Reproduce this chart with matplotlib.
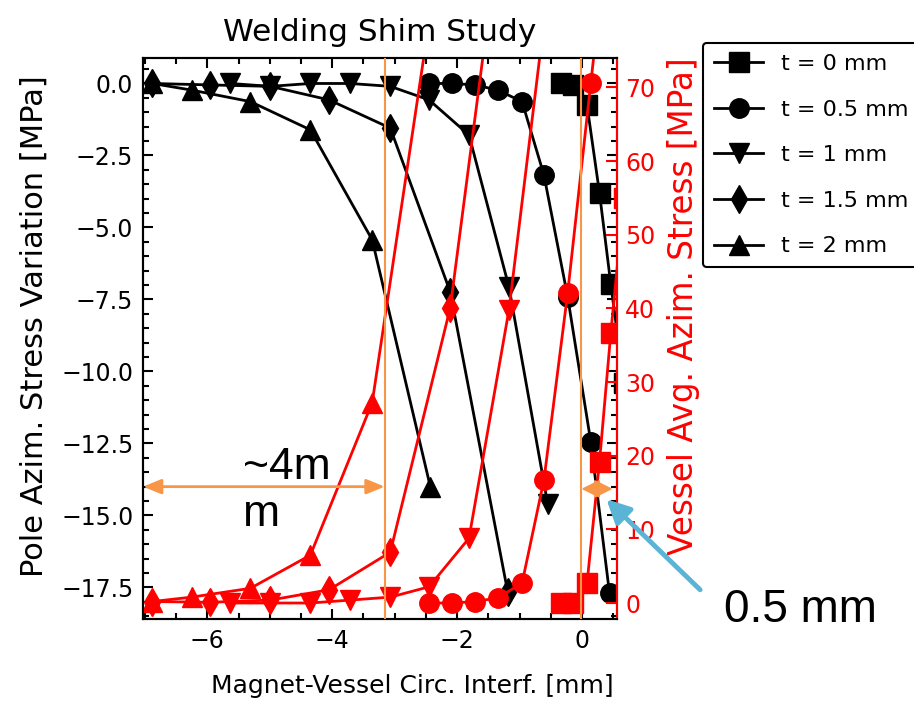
import matplotlib.pyplot as plt
from matplotlib.ticker import MultipleLocator

plt.rcParams['font.family'] = 'DejaVu Sans'
plt.rcParams['xtick.labelsize'] = 17
plt.rcParams['ytick.labelsize'] = 17

# shim thickness series: x = circ. interference [mm]
# pole = pole azim. stress variation [MPa], vessel = vessel avg. azim. stress [MPa]
x_t0 = [-0.34, -0.14, 0.08, 0.28, 0.46, 0.67]
pole_t0 = [0.0, -0.05, -0.75, -3.81, -6.96, -10.4]
vessel_t0 = [0.0, 0.0, 2.7, 19.2, 36.6, 55.0]

x_t05 = [-2.45, -2.08, -1.71, -1.35, -0.96, -0.61, -0.23, 0.14, 0.44]
pole_t05 = [0.0, 0.0, -0.05, -0.23, -0.63, -3.18, -7.41, -12.44, -17.7]
vessel_t05 = [0.0, 0.0, 0.2, 0.7, 2.7, 16.7, 42.1, 70.6, 93.0]

x_t1 = [-5.63, -4.99, -4.35, -3.71, -3.07, -2.45, -1.81, -1.17, -0.55]
pole_t1 = [0.0, -0.1, 0.0, 0.0, -0.1, -0.57, -1.79, -7.07, -14.6]
vessel_t1 = [0.0, 0.0, 0.0, 0.4, 0.8, 2.2, 8.8, 39.8, 83.0]

x_t15 = [-6.88, -5.95, -4.99, -4.05, -3.07, -2.11, -1.19]
pole_t15 = [0.0, -0.05, -0.1, -0.57, -1.55, -7.24, -17.66]
vessel_t15 = [0.2, 0.1, 0.4, 1.8, 6.9, 40.1, 100.0]

x_t2 = [-6.88, -6.25, -5.31, -4.35, -3.36, -2.43]
pole_t2 = [0.0, -0.23, -0.63, -1.61, -5.43, -14.0]
vessel_t2 = [0.2, 0.8, 2.0, 6.5, 27.2, 80.0]

labels = ['t = 0 mm', 't = 0.5 mm', 't = 1 mm', 't = 1.5 mm', 't = 2 mm']
markers = ['s', 'o', 'v', 'd', '^']
xs = [x_t0, x_t05, x_t1, x_t15, x_t2]
poles = [pole_t0, pole_t05, pole_t1, pole_t15, pole_t2]
vessels = [vessel_t0, vessel_t05, vessel_t1, vessel_t15, vessel_t2]

# annotation marks
gap_lines = [-3.16, -0.01]
orange = '#F79646'
blue = '#5AB4D6'

fig = plt.figure(figsize=(9.14, 7.08), dpi=100)
ax = fig.add_axes([143/914, 1 - 619/708, 474/914, 561/708])
ax2 = ax.twinx()

handles = []
for x, p, v, m, lab in zip(xs, poles, vessels, markers, labels):
    h, = ax.plot(x, p, '-', color='black', marker=m, ms=14, lw=2, label=lab)
    handles.append(h)
    ax2.plot(x, v, '-', color='red', marker=m, ms=14, lw=2)

ax.set_xlim(-7.03, 0.56)
ax.set_ylim(-18.6, 0.885)
ax2.set_ylim(-2.17, 74.0)

ax.xaxis.set_major_locator(MultipleLocator(2))
ax.xaxis.set_minor_locator(MultipleLocator(0.5))
ax.yaxis.set_major_locator(MultipleLocator(2.5))
ax.yaxis.set_minor_locator(MultipleLocator(0.5))
ax2.yaxis.set_major_locator(MultipleLocator(10))

ax.tick_params(which='both', direction='in', top=True, right=True, width=1.5, pad=7)
ax.tick_params(which='major', length=7)
ax.tick_params(which='minor', length=4)
ax2.tick_params(axis='y', which='major', direction='in', colors='red', length=8, width=1.5, pad=6)

for s in ax.spines.values():
    s.set_linewidth(1.5)
for s in ax2.spines.values():
    s.set_linewidth(1.5)
ax2.spines['right'].set_color('red')

ax.set_title('Welding Shim Study', fontsize=22.5, pad=12)
ax.set_xlabel('Magnet-Vessel Circ. Interf. [mm]', fontsize=18)
ax.xaxis.set_label_coords(0.5675, -0.098)
ax.set_ylabel('Pole Azim. Stress Variation [MPa]', fontsize=22)
ax.yaxis.set_label_coords(-0.2, 0.522)
ax2.set_ylabel('Vessel Avg. Azim. Stress [MPa]', fontsize=23.5, color='red')
ax2.yaxis.set_label_coords(1.106, 0.558)

# orange markups
for g in gap_lines:
    ax2.axvline(g, color=orange, lw=1.5, zorder=5)
ax2.annotate('', xy=(-7.03, 15.8), xytext=(-3.16, 15.8), annotation_clip=False,
             arrowprops=dict(arrowstyle='<|-|>,head_length=1.1,head_width=0.45',
                             color=orange, lw=2, shrinkA=0, shrinkB=0), zorder=6)
ax2.annotate('', xy=(-0.01, 15.5), xytext=(0.49, 15.5), annotation_clip=False,
             arrowprops=dict(arrowstyle='<|-|>,head_length=1.1,head_width=0.55',
                             color=orange, lw=1.5, shrinkA=0, shrinkB=0), zorder=6)
ax.text(0.211, 0.228, '~4m\nm', transform=ax.transAxes, fontsize=32,
        family='Liberation Sans', ha='left', va='center', linespacing=1.2, zorder=6)

# blue pointer + label
ax2.annotate('', xy=(0.39, 14.1), xytext=(0.766, 0.167), textcoords='figure fraction',
             annotation_clip=False,
             arrowprops=dict(arrowstyle='-|>,head_length=1.4,head_width=0.7',
                             color=blue, lw=3.5, shrinkA=0, shrinkB=0))
fig.text(0.876, 0.138, '0.5 mm', fontsize=33, family='Liberation Sans', ha='center', va='center')

leg = ax.legend(handles=handles, loc='upper left', bbox_to_anchor=(703/914, 1 - 43/708),
                bbox_transform=fig.transFigure, borderaxespad=0, fontsize=16,
                handlelength=2.2, labelspacing=1.15, borderpad=0.5, fancybox=True, framealpha=1)
leg.get_frame().set_edgecolor('black')
leg.get_frame().set_linewidth(1.5)
leg.set_zorder(10)

fig.savefig('out.png', dpi=100)
